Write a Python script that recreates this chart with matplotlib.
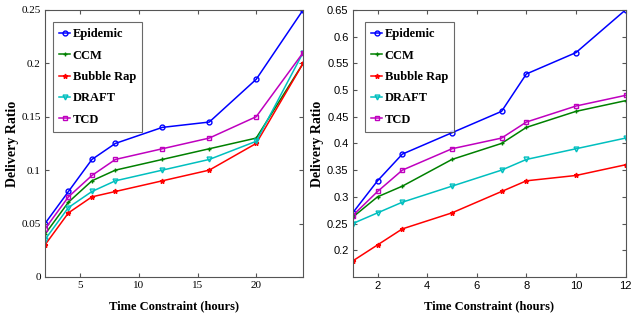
import matplotlib
matplotlib.use("Agg")
import matplotlib.pyplot as plt

names = ['Epidemic', 'CCM', 'Bubble Rap', 'DRAFT', 'TCD']
colors = ['#0000ff', '#008000', '#ff0000', '#00bfbf', '#bf00bf']
markers = ['o', '+', '*', 'v', 's']

# left panel
x_left = [2, 4, 6, 8, 12, 16, 20, 24]
left_vals = {
    'Epidemic':   [0.05, 0.08, 0.11, 0.125, 0.14, 0.145, 0.185, 0.25],
    'CCM':        [0.04, 0.07, 0.09, 0.10, 0.11, 0.12, 0.13, 0.20],
    'Bubble Rap': [0.03, 0.06, 0.075, 0.08, 0.09, 0.10, 0.125, 0.20],
    'DRAFT':      [0.035, 0.065, 0.08, 0.09, 0.10, 0.11, 0.127, 0.21],
    'TCD':        [0.045, 0.075, 0.095, 0.11, 0.12, 0.13, 0.15, 0.21],
}

# right panel
x_right = [1, 2, 3, 5, 7, 8, 10, 12]
right_vals = {
    'Epidemic':   [0.27, 0.33, 0.38, 0.42, 0.46, 0.53, 0.57, 0.65],
    'CCM':        [0.262, 0.30, 0.32, 0.37, 0.40, 0.43, 0.46, 0.48],
    'Bubble Rap': [0.18, 0.21, 0.24, 0.27, 0.31, 0.33, 0.34, 0.36],
    'DRAFT':      [0.25, 0.27, 0.29, 0.32, 0.35, 0.37, 0.39, 0.41],
    'TCD':        [0.265, 0.31, 0.35, 0.39, 0.41, 0.44, 0.47, 0.49],
}

serif = 'Liberation Serif'
sans = 'Liberation Sans'

fig = plt.figure(figsize=(6.39, 3.18), dpi=100)
ax1 = fig.add_axes([0.0704, 0.129, 0.404, 0.84])
ax2 = fig.add_axes([0.552, 0.129, 0.427, 0.84])


def draw(ax, x, vals, tickfont, leg_x):
    for n, c, m in zip(names, colors, markers):
        ax.plot(x, vals[n], color=c, marker=m, markersize=3.5, lw=1.1,
                markerfacecolor='none' if m in 'osv' else c, markeredgewidth=1, label=n)
    for s in ax.spines.values():
        s.set_color('#555555')
        s.set_linewidth(0.8)
    ax.tick_params(direction='in', top=True, right=True, length=3, color='#555555',
                   labelsize=8, pad=3)
    for lab in ax.get_xticklabels() + ax.get_yticklabels():
        lab.set_fontfamily(tickfont)
    ax.set_xlabel('Time Constraint (hours)', fontfamily=serif, fontweight='bold', fontsize=9)
    ax.set_ylabel('Delivery Ratio', fontfamily=serif, fontweight='bold', fontsize=10,
                  labelpad=2)
    ax.xaxis.set_label_coords(0.5, -0.088)
    leg = ax.legend(loc='upper left', bbox_to_anchor=(leg_x, 0.955), borderaxespad=0,
                    prop={'family': serif, 'weight': 'bold', 'size': 9},
                    fancybox=False, handlelength=0.9, handletextpad=0.2, labelspacing=0.75,
                    borderpad=0.5)
    leg.get_frame().set_edgecolor('#444444')
    leg.get_frame().set_linewidth(0.8)


ax1.set_xlim(2, 24)
ax1.set_ylim(0, 0.25)
ax1.set_xticks([5, 10, 15, 20])
ax1.set_yticks([0, 0.05, 0.1, 0.15, 0.2, 0.25])
ax1.set_yticklabels(['0', '0.05', '0.1', '0.15', '0.2', '0.25'])
draw(ax1, x_left, left_vals, serif, 0.03)

ax2.set_xlim(1, 12)
ax2.set_ylim(0.15, 0.65)
ax2.set_xticks([2, 4, 6, 8, 10, 12])
ax2.set_yticks([0.2, 0.25, 0.3, 0.35, 0.4, 0.45, 0.5, 0.55, 0.6, 0.65])
ax2.set_yticklabels(['0.2', '0.25', '0.3', '0.35', '0.4', '0.45', '0.5', '0.55', '0.6', '0.65'])
draw(ax2, x_right, right_vals, sans, 0.044)

fig.savefig('out.png', dpi=100)
